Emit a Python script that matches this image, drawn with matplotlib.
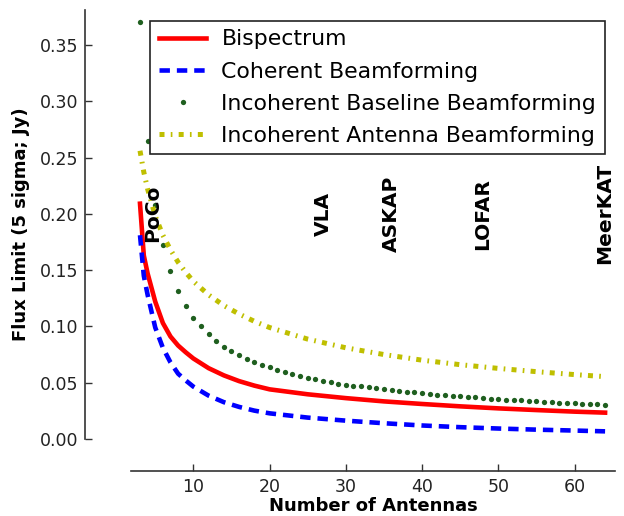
import matplotlib
matplotlib.use("Agg")
import matplotlib.pyplot as plt

plt.rcParams['font.family'] = ['DejaVu Sans']
plt.rcParams['lines.scale_dashes'] = False

# --- data ---
n_line = [3, 3.5, 4, 5, 6, 7, 8, 9, 10, 12, 14, 16, 18, 20, 25, 30, 35, 40, 45, 50, 55, 60, 64]
bispectrum = [0.209, 0.163, 0.147, 0.122, 0.103, 0.091, 0.083, 0.077, 0.0715, 0.0629, 0.0565,
              0.0514, 0.0474, 0.0441, 0.0397, 0.0363, 0.0334, 0.0311, 0.0290, 0.0272, 0.0257,
              0.0243, 0.0234]
coherent = [0.181, 0.145, 0.128, 0.099, 0.081, 0.068, 0.058, 0.052, 0.0465, 0.0385, 0.0327,
            0.0285, 0.0252, 0.0228, 0.0190, 0.0163, 0.0140, 0.0120, 0.0105, 0.0093, 0.0083,
            0.0075, 0.0068]
incoh_antenna = [0.256, 0.237, 0.222, 0.198, 0.181, 0.168, 0.157, 0.148, 0.140, 0.128, 0.1185,
                 0.111, 0.1045, 0.099, 0.0887, 0.081, 0.075, 0.070, 0.066, 0.0627, 0.0598,
                 0.0572, 0.0554]

n_points = list(range(3, 65))
incoh_baseline = [0.370, 0.265, 0.208, 0.172, 0.149, 0.131, 0.1185, 0.1075, 0.100, 0.093,
                  0.087, 0.0817, 0.0779, 0.0744, 0.0713, 0.0685, 0.0660, 0.0637, 0.0615,
                  0.0595, 0.0577, 0.0560, 0.0544, 0.0529, 0.0516, 0.0503, 0.0491, 0.0480,
                  0.0475, 0.0467, 0.0459, 0.0450, 0.0442, 0.0435, 0.0427, 0.0420, 0.0414,
                  0.0407, 0.0401, 0.0395, 0.0389, 0.0384, 0.0379, 0.0374, 0.0369, 0.0364,
                  0.0359, 0.0355, 0.0350, 0.0346, 0.0342, 0.0338, 0.0334, 0.0331, 0.0327,
                  0.0324, 0.0320, 0.0317, 0.0314, 0.0311, 0.0307, 0.0304]

telescopes = ['PoCo', 'VLA', 'ASKAP', 'LOFAR', 'MeerKAT']
telescope_n = [4.6, 27, 36, 48, 64]
label_y = 0.20

# --- figure ---
W, H = 624, 516
fig = plt.figure(figsize=(W / 100, H / 100), dpi=100)
ax = fig.add_axes([131 / W, 1 - 439 / H, (615 - 131) / W, (439 - 10) / H])

ax.plot(n_line, bispectrum, color='red', lw=3.3, label='Bispectrum')
ax.plot(n_line, coherent, color='blue', lw=3.3, dashes=(7.5, 5), label='Coherent Beamforming')
ax.plot(n_points, incoh_baseline, ls='none', marker='o', ms=3.8, mew=0,
        color='#1f5f1f', label='Incoherent Baseline Beamforming')
ax.plot(n_line, incoh_antenna, color='#bfbf00', lw=3.6, dashes=(3.6, 4.5, 1.2, 4.5),
        label='Incoherent Antenna Beamforming')

for name, n in zip(telescopes, telescope_n):
    ax.text(n, label_y, name, rotation=90, ha='center', va='center',
            fontsize=14.5, fontweight='bold')

ax.set_xlim(1.82, 65.3)
ax.set_ylim(0, 0.381)
ax.set_xticks([10, 20, 30, 40, 50, 60])
ax.set_yticks([0.0, 0.05, 0.10, 0.15, 0.20, 0.25, 0.30, 0.35])
ax.set_yticklabels(['%.2f' % v for v in [0.0, 0.05, 0.10, 0.15, 0.20, 0.25, 0.30, 0.35]])

for s in ['top', 'right']:
    ax.spines[s].set_visible(False)
ax.spines['left'].set_position(('outward', 33))
ax.spines['bottom'].set_position(('outward', 23))
for s in ['left', 'bottom']:
    ax.spines[s].set_linewidth(1.2)
    ax.spines[s].set_color('#333333')
ax.tick_params(direction='in', length=5, width=1, colors='#333333', labelcolor='#222222',
               labelsize=12.5, pad=5, top=False, right=False)

ax.set_xlabel('Number of Antennas', fontsize=13, fontweight='bold', labelpad=1)
ax.set_ylabel('Flux Limit (5 sigma; Jy)', fontsize=13, fontweight='bold', labelpad=7)

leg = ax.legend(loc='upper right', bbox_to_anchor=(605 / W, 1 - 20.7 / H),
                bbox_transform=fig.transFigure, borderaxespad=0, fontsize=15.8,
                numpoints=1, fancybox=False, framealpha=1, edgecolor='#222222',
                handlelength=2.15, handletextpad=0.7, borderpad=0.4, labelspacing=0.55)
leg.get_frame().set_linewidth(1.2)

fig.savefig('out.png', dpi=100)
